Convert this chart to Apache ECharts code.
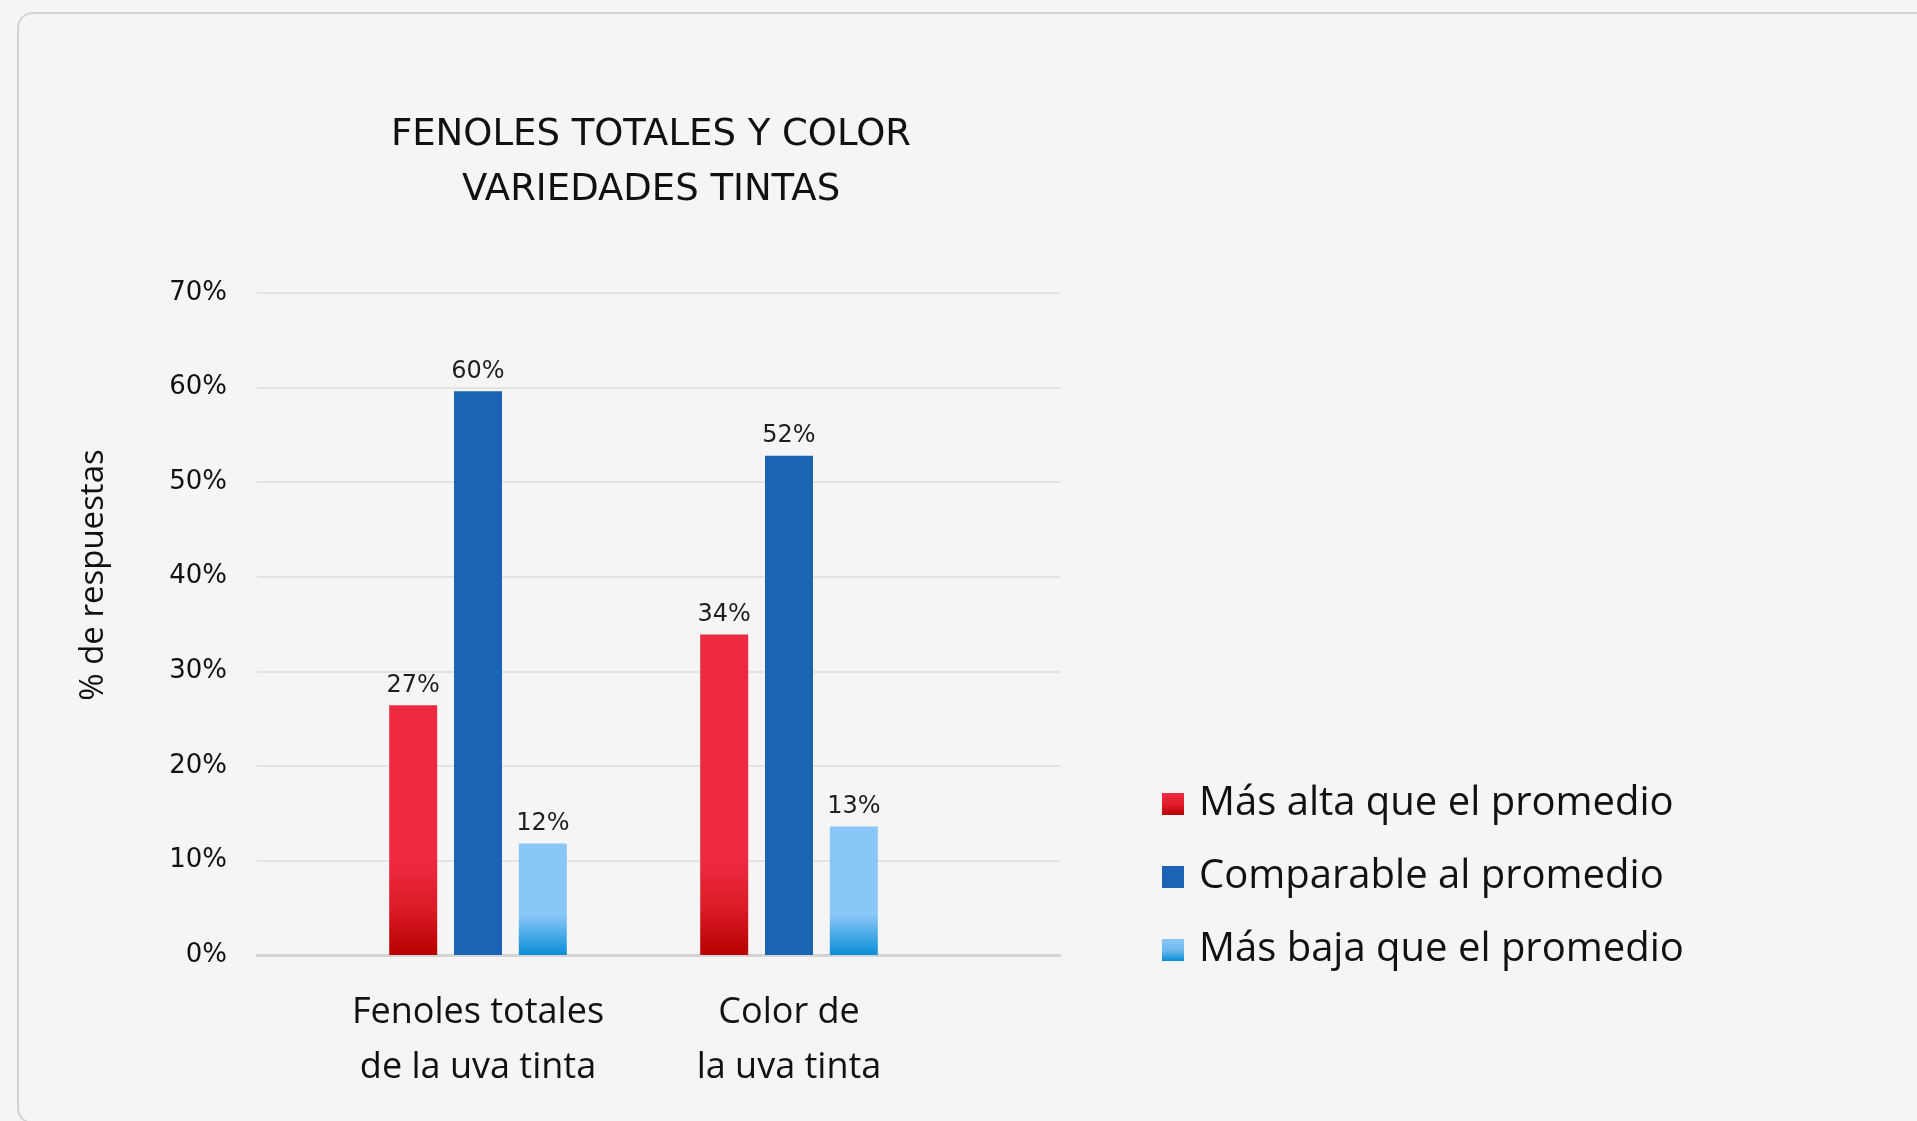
<!DOCTYPE html>
<html>
<head>
<meta charset="utf-8">
<title>Fenoles totales y color</title>
<script src="https://cdn.jsdelivr.net/npm/echarts@6/dist/echarts.min.js"></script>
<style>
  html, body { margin: 0; padding: 0; background: #f5f5f5; }
  #card {
    position: absolute; left: 17px; top: 12px; width: 1920px; height: 1112px;
    border: 2px solid #d2d2d2; border-radius: 16px; box-sizing: border-box;
  }
  #chart { position: absolute; left: 0; top: 0; width: 1917px; height: 1121px; }
</style>
</head>
<body>
<div id="card"></div>
<div id="chart"></div>
<script>
  // data (percent of answers)
  const categories = ["Fenoles totales\nde la uva tinta", "Color de\nla uva tinta"];
  const seriesNames = ["Más alta que el promedio", "Comparable al promedio", "Más baja que el promedio"];
  const altaValues = [26.4, 33.9];
  const comparableValues = [59.6, 52.8];
  const bajaValues = [11.8, 13.6];
  const altaLabels = ["27%", "34%"];
  const comparableLabels = ["60%", "52%"];
  const bajaLabels = ["12%", "13%"];
  const yMin = 0, yMax = 70, yStep = 10;

  const chart = echarts.init(document.getElementById("chart"));

  const LG = echarts.graphic.LinearGradient;
  // bar gradients in page pixels, so every bar darkens near the base
  const redFill = new LG(0, 860, 0, 955, [
    { offset: 0, color: "#ee2a41" },
    { offset: 0.5, color: "#dc1c28" },
    { offset: 1, color: "#b70000" }
  ], true);
  const lightFill = new LG(0, 915, 0, 955, [
    { offset: 0, color: "#89c7f6" },
    { offset: 0.5, color: "#4aaae8" },
    { offset: 1, color: "#0a8dd5" }
  ], true);
  const blueFill = "#1b64b4";

  const labelStyle = (texts) => ({
    show: true,
    position: "top",
    distance: 8,
    fontFamily: "DejaVu Sans",
    fontSize: 24,
    color: "#1e1e1e",
    formatter: (p) => texts[p.dataIndex]
  });

  const barBase = {
    type: "bar",
    xAxisIndex: 1,
    yAxisIndex: 1,
    barWidth: 48,
    barGap: "35%"
  };

  const option = {
    animation: false,
    backgroundColor: "transparent",
    graphic: [
      {
        type: "text",
        x: 651,
        y: 108,
        style: {
          text: "FENOLES TOTALES Y COLOR\nVARIEDADES TINTAS",
          align: "center",
          textAlign: "center",
          verticalAlign: "top",
          textVerticalAlign: "top",
          fontFamily: "DejaVu Sans",
          fontSize: 37,
          lineHeight: 55,
          fill: "#111"
        }
      },
      {
        // y axis title, sits a bit above the middle of the plot
        type: "text",
        x: 94,
        y: 575,
        rotation: Math.PI / 2,
        style: {
          text: "% de respuestas",
          align: "center",
          textAlign: "center",
          verticalAlign: "middle",
          textVerticalAlign: "middle",
          fontFamily: "Open Sans",
          fontSize: 33,
          fill: "#111"
        }
      }
    ],
    legend: {
      orient: "vertical",
      left: 1162,
      top: 784,
      padding: 0,
      itemWidth: 22,
      itemHeight: 22,
      itemGap: 33,
      icon: "rect",
      textStyle: {
        fontFamily: "Open Sans",
        fontSize: 40,
        lineHeight: 40,
        color: "#111",
        padding: [0, 0, 0, 10]
      },
      data: [
        { name: seriesNames[0], itemStyle: { color: new LG(0, 0, 0, 1, [{ offset: 0, color: "#ee2a41" }, { offset: 0.5, color: "#e01f2e" }, { offset: 1, color: "#b70000" }]) } },
        { name: seriesNames[1], itemStyle: { color: blueFill } },
        { name: seriesNames[2], itemStyle: { color: new LG(0, 0, 0, 1, [{ offset: 0, color: "#89c7f6" }, { offset: 0.5, color: "#6fb9f0" }, { offset: 1, color: "#0a8dd5" }]) } }
      ]
    },
    grid: [
      { left: 257, right: 857, top: 293, bottom: 166 },
      { left: 322.5, right: 972.5, top: 293, bottom: 166 }
    ],
    xAxis: [
      {
        type: "category",
        gridIndex: 0,
        data: categories,
        axisLine: { show: true, lineStyle: { color: "#d4d4d4", width: 3 } },
        axisTick: { show: false },
        axisLabel: { show: false },
        splitLine: { show: false }
      },
      {
        type: "category",
        gridIndex: 1,
        data: categories,
        axisLine: { show: false },
        axisTick: { show: false },
        axisLabel: {
          interval: 0,
          margin: 30,
          fontFamily: "Open Sans",
          fontSize: 36,
          lineHeight: 55,
          color: "#111"
        }
      }
    ],
    yAxis: [
      {
        type: "value",
        gridIndex: 0,
        min: yMin,
        max: yMax,
        interval: yStep,
        axisLine: { show: false },
        axisTick: { show: false },
        axisLabel: {
          margin: 30,
          formatter: "{value}%",
          fontFamily: "DejaVu Sans",
          fontSize: 26,
          color: "#111"
        },
        splitLine: { lineStyle: { color: "#dcdcdc", width: 1.5 } }
      },
      {
        type: "value",
        gridIndex: 1,
        min: yMin,
        max: yMax,
        interval: yStep,
        show: false,
        splitLine: { show: false }
      }
    ],
    series: [
      Object.assign({}, barBase, {
        name: seriesNames[0],
        data: altaValues,
        itemStyle: { color: redFill },
        label: labelStyle(altaLabels)
      }),
      Object.assign({}, barBase, {
        name: seriesNames[1],
        data: comparableValues,
        itemStyle: { color: blueFill },
        label: labelStyle(comparableLabels)
      }),
      Object.assign({}, barBase, {
        name: seriesNames[2],
        data: bajaValues,
        itemStyle: { color: lightFill },
        label: labelStyle(bajaLabels)
      })
    ]
  };

  chart.setOption(option);
</script>
</body>
</html>
